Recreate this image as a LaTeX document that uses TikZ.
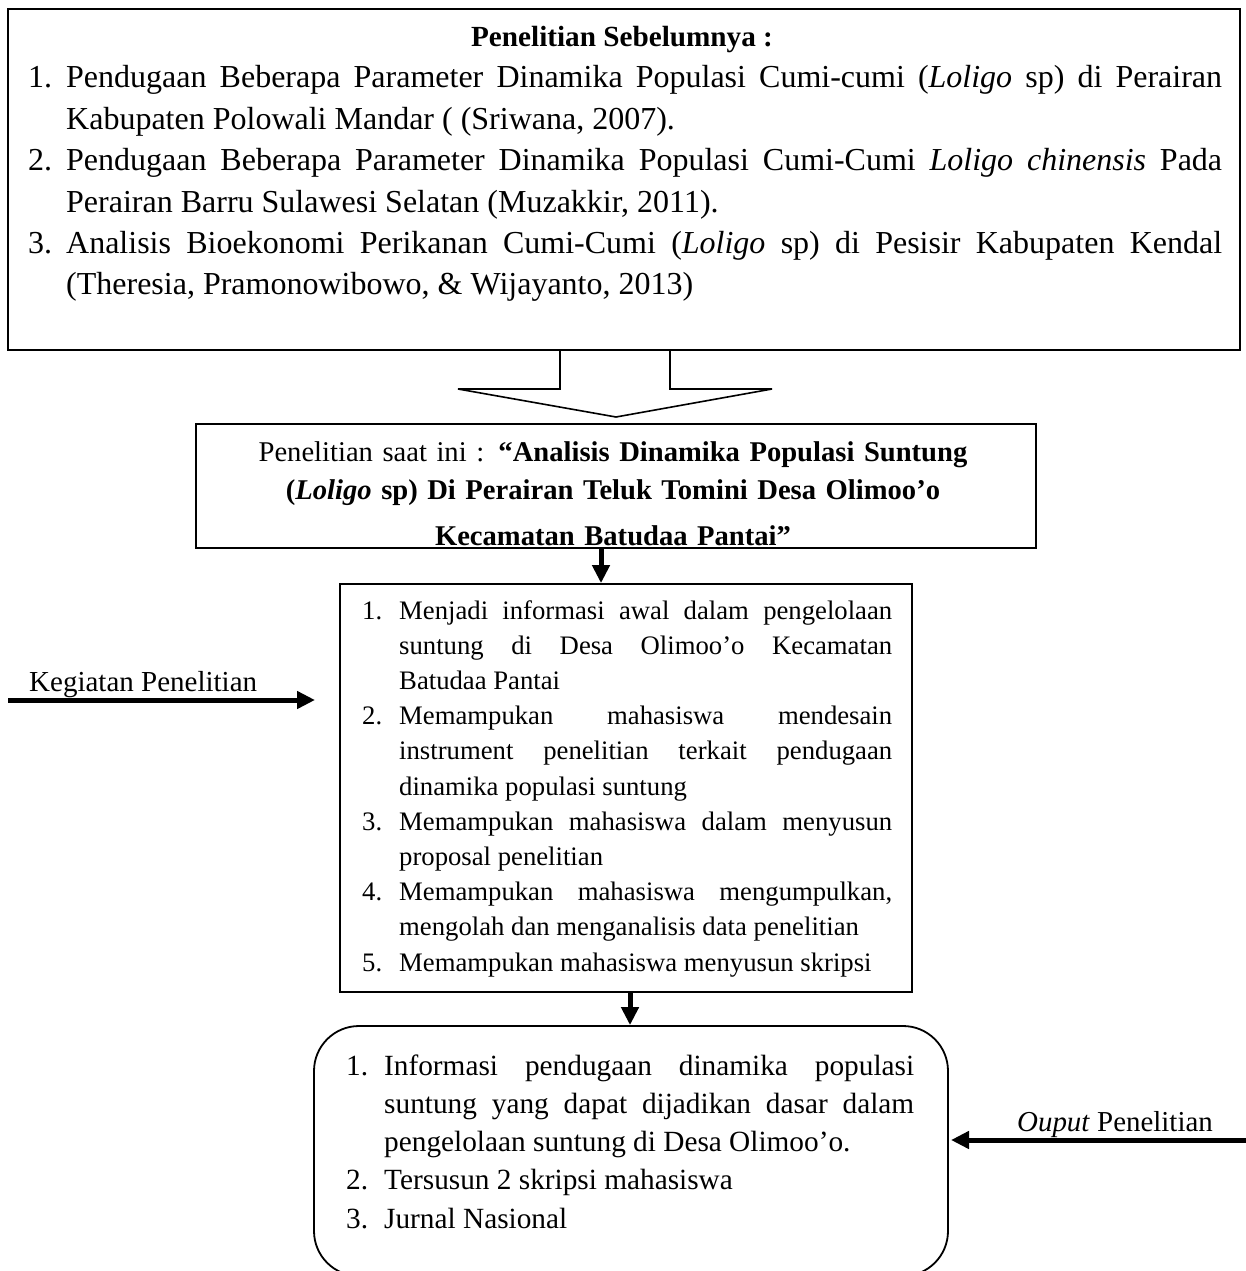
\documentclass[tikz,border=0pt]{standalone}
\usepackage{fontspec}
\setmainfont{Liberation Serif}
\usetikzlibrary{arrows.meta}
\newlength\hg
\newcommand\Itm[2]{\noindent\hangindent=\hg\hangafter=1\makebox[\hg][l]{#1}#2\par}
\newcommand\setpar{\tolerance=10000\hyphenpenalty=10000\exhyphenpenalty=10000\parindent=0pt\parskip=0pt\rightskip=0pt\leftskip=0pt\parfillskip=0pt plus 1fil\spaceskip=\fontdimen2\font plus 2em minus 0pt\xspaceskip=\spaceskip}
\tikzset{
  box/.style={draw=black, line width=1.8pt, inner sep=0pt},
  conn/.style={line width=5pt, -{Triangle[length=18pt,width=17pt]}},
  txt/.style={inner sep=0pt, anchor=base west},
}
\begin{document}
\begin{tikzpicture}[x=1pt,y=-1pt]
\useasboundingbox (0,0) rectangle (1246,1271);
% previous research box
\node[box, minimum width=1232pt, minimum height=341pt] (prev) at (624,179.5) {};
\node[inner sep=0pt, anchor=base, font=\fontsize{29.2}{41.4}\selectfont\bfseries] (prevhead) at (622,47) {Penelitian Sebelumnya :};
\node[txt, text width=1194pt, font=\fontsize{32}{41.4}\selectfont] (prevtext) at (28,88) {%
\setpar\setlength\hg{38pt}%
\Itm{1.}{Pendugaan Beberapa Parameter Dinamika Populasi Cumi-cumi (\textit{Loligo} sp) di Perairan\linebreak Kabupaten Polowali Mandar ( (Sriwana, 2007).}
\Itm{2.}{Pendugaan Beberapa Parameter Dinamika Populasi Cumi-Cumi \textit{Loligo chinensis} Pada\linebreak Perairan Barru Sulawesi Selatan (Muzakkir, 2011).}
\Itm{3.}{Analisis Bioekonomi Perikanan Cumi-Cumi (\textit{Loligo} sp) di Pesisir Kabupaten Kendal\linebreak (Theresia, Pramonowibowo, \& Wijayanto, 2013)}};
% block arrow
\draw[line width=1.6pt, line join=miter] (560,350) -- (560,389) -- (458,389) -- (616,417) -- (772,389) -- (670,389) -- (670,350);
% title box
\begin{scope}
\clip (197,425) rectangle (1035,546);
\node[inner sep=0pt, anchor=base, text width=840pt, align=center, font=\fontsize{28.6}{38}\selectfont] (titletext) at (613,461) {%
Penelitian saat ini : \textbf{“Analisis Dinamika Populasi Suntung}\\
\textbf{(\textit{Loligo} sp) Di Perairan Teluk Tomini Desa Olimoo’o}\\[8pt]
\textbf{Kecamatan Batudaa Pantai”}};
\end{scope}
\node[box, minimum width=840pt, minimum height=124pt] (title) at (616,486) {};
% activities box
\node[box, minimum width=572pt, minimum height=408pt] (mid) at (626,788) {};
\node[txt, text width=530pt, font=\fontsize{26.7}{35.2}\selectfont] (midtext) at (362,619) {%
\setpar\setlength\hg{37pt}%
\Itm{1.}{Menjadi informasi awal dalam pengelolaan\linebreak suntung di Desa Olimoo’o Kecamatan\linebreak Batudaa Pantai}
\Itm{2.}{Memampukan mahasiswa mendesain\linebreak instrument penelitian terkait pendugaan\linebreak dinamika populasi suntung}
\Itm{3.}{Memampukan mahasiswa dalam menyusun\linebreak proposal penelitian}
\Itm{4.}{Memampukan mahasiswa mengumpulkan,\linebreak mengolah dan menganalisis data penelitian}
\Itm{5.}{Memampukan mahasiswa menyusun skripsi}};
% output box
\node[box, rounded corners=45pt, minimum width=634pt, minimum height=250pt] (out) at (631,1151) {};
\node[txt, text width=568pt, font=\fontsize{29.3}{38.3}\selectfont] (outtext) at (346,1075) {%
\setpar\setlength\hg{38pt}%
\Itm{1.}{Informasi pendugaan dinamika populasi\linebreak suntung yang dapat dijadikan dasar dalam\linebreak pengelolaan suntung di Desa Olimoo’o.}
\Itm{2.}{Tersusun 2 skripsi mahasiswa}
\Itm{3.}{Jurnal Nasional}};
% side labels
\node[txt, font=\fontsize{29}{34}\selectfont] (kegiatan) at (29,691) {Kegiatan Penelitian};
\node[inner sep=0pt, anchor=base east, font=\fontsize{28.9}{34}\selectfont] (output) at (1213,1131) {\textit{Ouput} Penelitian};
\coordinate (kstart) at (8,700);
\coordinate (kend) at (315,700);
\coordinate (ostart) at (1246,1140);
\coordinate (oend) at (951,1140);
% connectors
\draw[conn] ([xshift=-15pt]title.south) -- ([xshift=-25pt]mid.north);
\draw[conn] ([xshift=4pt]mid.south) -- ([xshift=-1pt]out.north);
\draw[conn] (kstart) -- (kend);
\draw[conn] (ostart) -- (oend);
\end{tikzpicture}
\end{document}
